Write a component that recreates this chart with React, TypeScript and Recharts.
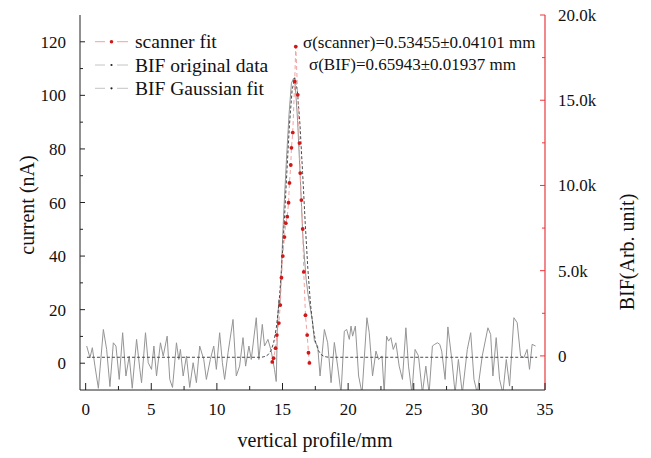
import React from 'react';
import { ComposedChart, Line, XAxis, YAxis, Legend, Customized } from 'recharts';

// ---- data ----
const scannerX = [14.22, 14.32, 14.47, 14.57, 14.72, 14.83, 14.92, 15.02, 15.15, 15.25, 15.36, 15.46, 15.53, 15.63, 15.68, 15.78, 15.93, 16.01, 16.16, 16.29, 16.35, 16.44, 16.54, 16.62, 16.75, 16.88, 16.98, 17.05];
const scannerY = [0.5, 1.9, 5.6, 10.5, 15.0, 21.7, 31.9, 40.0, 47.1, 52.3, 54.7, 59.9, 67.3, 74.0, 80.4, 86.1, 105.2, 118.2, 100.2, 82.2, 71.0, 60.9, 50.1, 34.1, 17.9, 10.5, 3.9, 0.1];

const bifX = [
  0.08, 0.33, 0.51, 0.71, 0.97, 1.35, 1.6, 1.85, 2.11, 2.31, 2.56, 2.82, 3.07, 3.32, 3.55, 3.88, 4.13, 4.26, 4.56, 4.77,
  5.02, 5.2, 5.4, 5.7, 5.91, 6.21, 6.41, 6.62, 6.92, 7.1, 7.22, 7.43, 7.68, 7.93, 8.19, 8.44, 8.69, 9.0, 9.2, 9.5,
  9.76, 9.96, 10.21, 10.42, 10.59, 10.85, 11.23, 11.48, 11.73, 11.99, 12.19, 12.44, 12.62, 13.0, 13.2, 13.46, 13.63, 13.89, 14.14, 14.39,
  14.52, 14.62, 14.72, 14.8, 14.9, 15.08, 15.3, 15.5, 15.68, 15.85, 15.98, 16.15, 16.35, 16.55, 16.8, 16.95, 17.18, 17.3, 17.43, 17.68,
  17.86, 18.19, 18.44, 18.7, 18.95, 19.2, 19.46, 19.71, 19.89, 20.09, 20.22, 20.34, 20.55, 20.8, 21.06, 21.43, 21.61, 21.86, 22.12, 22.32,
  22.58, 22.75, 22.93, 23.08, 23.26, 23.44, 23.64, 23.89, 24.14, 24.4, 24.6, 24.86, 25.1, 25.36, 25.66, 25.92, 26.17, 26.42, 26.6, 26.8,
  26.98, 27.13, 27.39, 27.6, 27.9, 28.15, 28.4, 28.7, 29.08, 29.34, 29.59, 29.84, 30.22, 30.65, 30.86, 31.03, 31.28, 31.54, 31.79, 32.05,
  32.3, 32.63, 32.88, 33.14, 33.39, 33.64, 33.82, 34.02, 34.28,
];
const bifY = [
  580, -110, 480, -600, -1900, 1550, 380, -1800, 770, 580, -1380, 1360, -1180, -10, -1900, 970, -790, -1570, 1360, -400,
  -790, 580, -1180, 770, -10, 1160, -1380, -1850, 770, -210, 380, -1180, -10, -1850, -400, -1570, 580, -210, -1380, -210,
  580, -790, 1360, -400, -1380, 190, 2140, -1180, -600, 1070, -600, 580, -210, 2240, -210, 1850, 580, 970, 280, -790,
  -1500, 1900, 3300, 2900, 4800, 8200, 11500, 14200, 16000, 16300, 15800, 13800, 10500, 7000, 4500, 3600, 2500, 1950, 870, 570,
  -1180, 1550, 770, -1570, 790, -600, -2200, 1450, 1550, 970, 1750, 1160, 1750, -1180, -2200, 2240, 1360, -1180, 280, -210,
  0, -2200, 1160, 870, 1070, 380, 770, -600, -1380, 1650, -600, -2200, 380, 0, -2200, -600, -2200, 580, 680, 770,
  680, 280, -1380, 1700, -210, -2200, -210, -2200, 380, 1360, -1380, -2200, 0, 1650, 1260, -1180, 1070, -1380, -2200, -210,
  -1770, 2240, 1950, 0, -100, 380, -790, 680, 580,
];

const fitX = [0.1, 13.33, 13.53, 13.73, 13.93, 14.13, 14.33, 14.53, 14.73, 14.93, 15.13, 15.33, 15.53, 15.73, 15.93, 16.13, 16.33, 16.53, 16.73, 16.93, 17.13, 17.33, 17.53, 17.73, 17.93, 18.13, 18.33, 18.53, 34.4];
const fitY = [-80, -80, -58, -17, 90, 320, 790, 1650, 3060, 5120, 7790, 10770, 13570, 15580, 16320, 15580, 13570, 10770, 7790, 5120, 3060, 1650, 790, 320, 90, -17, -58, -80, -80];

const xTicks = [0, 2.5, 5, 7.5, 10, 12.5, 15, 17.5, 20, 22.5, 25, 27.5, 30, 32.5, 35];
const leftTicks = [0, 10, 20, 30, 40, 50, 60, 70, 80, 90, 100, 110, 120];
const rightTicks = [0, 2500, 5000, 7500, 10000, 12500, 15000, 17500, 20000];
const rightTickLabels: Record<number, string> = { 0: '0', 5000: '5.0k', 10000: '10.0k', 15000: '15.0k', 20000: '20.0k' };

const seriesNames = ['scanner fit', 'BIF original data', 'BIF Gaussian fit'];
const annotations = ['σ(scanner)=0.53455±0.04101 mm', 'σ(BIF)=0.65943±0.01937 mm'];
const axisTitles = { x: 'vertical profile/mm', left: 'current (nA)', right: 'BIF(Arb. unit)' };

const scannerData = scannerX.map((x, i) => ({ x, y: scannerY[i] }));
const bifData = bifX.map((x, i) => ({ x, y: bifY[i] }));
const fitData = fitX.map((x, i) => ({ x, y: fitY[i] }));

const FONT = "'Liberation Serif', 'Times New Roman', serif";
const RED_AXIS = '#e8383c';

const BottomTick = (props: any) => {
  const { x, y, payload } = props;
  const v = payload.value;
  const major = Math.abs(v % 5) < 1e-6;
  return (
    <g>
      <line x1={x} x2={x} y1={y} y2={y - (major ? 7 : 4)} stroke="#222" strokeWidth={1} />
      {major && (
        <text x={x} y={y + 25} textAnchor="middle" fontSize={17} fontFamily={FONT} fill="#111">
          {v}
        </text>
      )}
    </g>
  );
};

const TopTick = (props: any) => {
  const { x, y, payload } = props;
  const v = payload.value;
  const major = Math.abs(v % 5) < 1e-6;
  return <line x1={x} x2={x} y1={y} y2={y + (major ? 7 : 4)} stroke="#222" strokeWidth={1} />;
};

const LeftTick = (props: any) => {
  const { x, y, payload } = props;
  const v = payload.value;
  const major = v % 20 === 0;
  return (
    <g>
      <line x1={x} x2={x + (major ? 5 : 3)} y1={y} y2={y} stroke="#222" strokeWidth={1} />
      {major && (
        <text x={x - 14} y={y + 6} textAnchor="end" fontSize={17} fontFamily={FONT} fill="#111">
          {v}
        </text>
      )}
    </g>
  );
};

const RightTick = (props: any) => {
  const { x, y, payload } = props;
  const v = payload.value;
  const label = rightTickLabels[v];
  return (
    <g>
      <line x1={x} x2={x - (label ? 5 : 3)} y1={y} y2={y} stroke={RED_AXIS} strokeWidth={1} />
      {label && (
        <text x={x + 13} y={y + 6} textAnchor="start" fontSize={17} fontFamily={FONT} fill="#111">
          {label}
        </text>
      )}
    </g>
  );
};

const ScannerDot = (props: any) => {
  const { cx, cy, index } = props;
  if (cx == null || cy == null) return <g key={index} />;
  return <circle key={index} cx={cx} cy={cy} r={1.9} fill="#d01818" />;
};

const renderLegend = () => {
  const rows = [
    { name: seriesNames[0], line: '#f2a0a0', dot: '#d01818', r: 1.8 },
    { name: seriesNames[1], line: '#c4c4c4', dot: '#222', r: 1.1 },
    { name: seriesNames[2], line: '#c4c4c4', dot: '#222', r: 1.1 },
  ];
  return (
    <svg width={200} height={75}>
      {rows.map((r, i) => {
        const cy = 11.7 + 23.3 * i;
        return (
          <g key={i}>
            <line x1={7} x2={17} y1={cy} y2={cy} stroke={r.line} strokeWidth={1} />
            <line x1={29} x2={40} y1={cy} y2={cy} stroke={r.line} strokeWidth={1} />
            <circle cx={23.5} cy={cy} r={r.r} fill={r.dot} />
            <text x={47} y={cy + 6.5} fontSize={19.5} fontFamily={FONT} fill="#111">
              {r.name}
            </text>
          </g>
        );
      })}
    </svg>
  );
};

const Overlay = () => (
  <g>
    <text x={303} y={48} fontSize={17} fontFamily={FONT} fill="#111">{annotations[0]}</text>
    <text x={309} y={70} fontSize={17} fontFamily={FONT} fill="#111">{annotations[1]}</text>
    <text x={315} y={447} textAnchor="middle" fontSize={20} fontFamily={FONT} fill="#111">{axisTitles.x}</text>
    <text x={0} y={0} transform="translate(34,205) rotate(-90)" textAnchor="middle" fontSize={20} fontFamily={FONT} fill="#111">{axisTitles.left}</text>
    <text x={0} y={0} transform="translate(634,252) rotate(-90)" textAnchor="middle" fontSize={20} fontFamily={FONT} fill="#111">{axisTitles.right}</text>
  </g>
);

export default function App() {
  return (
    <div style={{ position: 'absolute', left: 0, top: 0, width: 651, height: 458, background: '#fff' }}>
      <ComposedChart width={651} height={458} margin={{ top: 15, right: 0, bottom: 0, left: 0 }}>
        <XAxis
          xAxisId="b"
          dataKey="x"
          type="number"
          domain={[-0.43, 35]}
          ticks={xTicks}
          interval={0}
          height={68}
          tickSize={0}
          tickMargin={0}
          tickLine={false}
          tick={<BottomTick />}
          axisLine={{ stroke: '#222', strokeWidth: 1 }}
          allowDataOverflow
        />
        <XAxis
          xAxisId="t"
          orientation="top"
          dataKey="x"
          type="number"
          domain={[-0.43, 35]}
          ticks={xTicks}
          interval={0}
          height={0}
          tickSize={0}
          tickMargin={0}
          tickLine={false}
          tick={<TopTick />}
          axisLine={{ stroke: '#222', strokeWidth: 1 }}
          allowDataOverflow
        />
        <YAxis
          yAxisId="l"
          type="number"
          domain={[-10, 130]}
          ticks={leftTicks}
          interval={0}
          width={80}
          tickSize={0}
          tickMargin={0}
          tickLine={false}
          tick={<LeftTick />}
          axisLine={{ stroke: '#222', strokeWidth: 1 }}
          allowDataOverflow
        />
        <YAxis
          yAxisId="r"
          orientation="right"
          type="number"
          domain={[-2000, 20000]}
          ticks={rightTicks}
          interval={0}
          width={106}
          tickSize={0}
          tickMargin={0}
          tickLine={false}
          tick={<RightTick />}
          axisLine={{ stroke: RED_AXIS, strokeWidth: 1.2 }}
          allowDataOverflow
        />
        <Line
          xAxisId="b"
          yAxisId="r"
          data={bifData}
          dataKey="y"
          name={seriesNames[1]}
          stroke="#959595"
          strokeWidth={1}
          dot={false}
          activeDot={false}
          isAnimationActive={false}
        />
        <Line
          xAxisId="b"
          yAxisId="r"
          data={fitData}
          dataKey="y"
          name={seriesNames[2]}
          stroke="#4a4a4a"
          strokeWidth={1}
          strokeDasharray="3 2"
          dot={false}
          activeDot={false}
          isAnimationActive={false}
        />
        <Line
          xAxisId="b"
          yAxisId="l"
          data={scannerData}
          dataKey="y"
          name={seriesNames[0]}
          stroke="#f2a0a0"
          strokeWidth={1}
          strokeDasharray="4 3"
          dot={<ScannerDot />}
          activeDot={false}
          isAnimationActive={false}
        />
        <Legend
          layout="vertical"
          align="center"
          verticalAlign="middle"
          content={renderLegend}
          wrapperStyle={{ position: 'absolute', left: 88, top: 30, width: 200, height: 75 }}
        />
        <Customized component={Overlay} />
      </ComposedChart>
    </div>
  );
}
